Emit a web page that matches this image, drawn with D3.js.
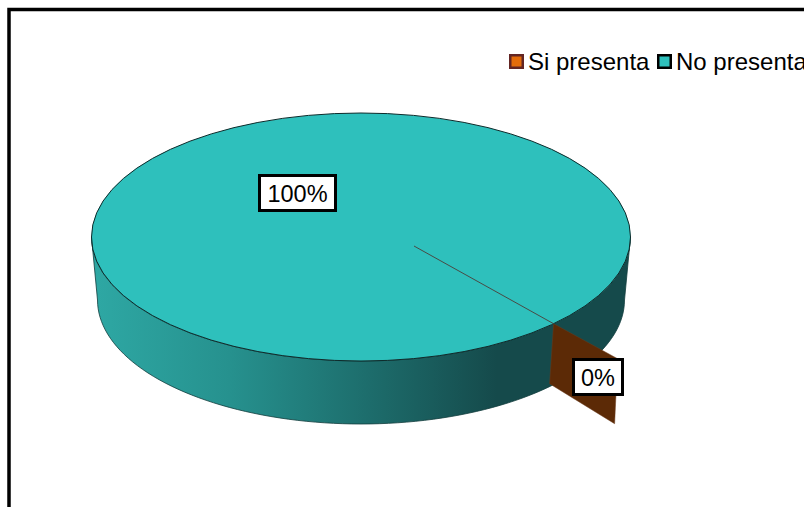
<!DOCTYPE html>
<html>
<head>
<meta charset="utf-8">
<script src="https://cdn.jsdelivr.net/npm/d3@7/dist/d3.min.js"></script>
<style>
html,body{margin:0;padding:0;background:#fff;overflow:hidden}
svg{display:block}
text{font-family:"Liberation Sans",Arial,sans-serif;fill:#000}
</style>
</head>
<body>
<svg id="c" width="804" height="507"></svg>
<script>
const categories = ["Si presenta", "No presenta"];
const seriesValues = [0, 100];
const valueLabels = ["0%", "100%"];
const swatchColors = ["#E46C0A", "#2EC0BC"];
const swatchStrokes = ["#632523", "#000000"];

const svg = d3.select("#c");
const W = 804, H = 507;
const topFace = {cx: 361, cy: 237, rx: 269.5, ry: 124};
const bottomFace = {cx: 361, cy: 300, rx: 263.5, ry: 124};
const hub = [414, 246];
const firstAngle = Math.atan2(191 / topFace.rx, -86 / topFace.ry);
const project = (e, a) => [e.cx + e.rx * Math.sin(a), e.cy - e.ry * Math.cos(a)];

const arcs = d3.pie().sort(null).startAngle(firstAngle).endAngle(firstAngle + 2 * Math.PI)(seriesValues);
const line = d3.line();

// frame
svg.append("path").attr("d", `M9 ${H + 5}V9.5H${W + 5}`).attr("fill", "none").attr("stroke", "#000").attr("stroke-width", 3.5);

// side wall
const defs = svg.append("defs");
const grad = defs.append("linearGradient").attr("id", "wall").attr("gradientUnits", "userSpaceOnUse")
  .attr("x1", 92).attr("x2", 552).attr("y1", 0).attr("y2", 0);
[[0, "#2EA8A4"], [0.3, "#26918E"], [0.6, "#1D6D6C"], [0.88, "#154A4B"], [1, "#154A4B"]]
  .forEach(s => grad.append("stop").attr("offset", s[0]).attr("stop-color", s[1]));

const lowerAngles = d3.range(0, 181, 2).map(d => (90 + d) * Math.PI / 180);
const wallPts = [
  [topFace.cx - topFace.rx, topFace.cy],
  ...lowerAngles.slice().reverse().map(a => project(topFace, a)),
  [topFace.cx + topFace.rx, topFace.cy],
  ...lowerAngles.map(a => project(bottomFace, a))
];
svg.append("path").attr("d", line(wallPts) + "Z").attr("fill", "url(#wall)").attr("stroke", "#123c3c").attr("stroke-width", 0.8);

// cut face of the zero slice
const edge = project(topFace, arcs[0].startAngle);
const edgeLow = [edge[0] - 4, edge[1] + 60];
svg.append("path")
  .attr("d", line([edge, [edge[0] + 64, edge[1] + 35], [edge[0] + 61, edge[1] + 100], edgeLow]) + "Z")
  .attr("fill", "#5C2A06").attr("stroke", "#6b3a1c").attr("stroke-width", 0.5);

// top face
svg.append("ellipse").attr("cx", topFace.cx).attr("cy", topFace.cy).attr("rx", topFace.rx).attr("ry", topFace.ry)
  .attr("fill", swatchColors[1]).attr("stroke", "#0d2b2b").attr("stroke-width", 1);

// slice boundary
svg.append("path").attr("d", line([hub, edge])).attr("stroke", "#4a4a45").attr("stroke-width", 1).attr("fill", "none");

// labels
const labelBoxes = [
  {x: 573.5, y: 359.5, w: 49, h: 35},
  {x: 259.5, y: 175.5, w: 76, h: 35}
];
const labels = svg.append("g").selectAll("g").data(valueLabels).join("g");
labels.append("rect")
  .attr("x", (d, i) => labelBoxes[i].x).attr("y", (d, i) => labelBoxes[i].y)
  .attr("width", (d, i) => labelBoxes[i].w).attr("height", (d, i) => labelBoxes[i].h)
  .attr("fill", "#fff").attr("stroke", "#000").attr("stroke-width", 3);
labels.append("text")
  .attr("x", (d, i) => labelBoxes[i].x + labelBoxes[i].w / 2)
  .attr("y", (d, i) => labelBoxes[i].y + labelBoxes[i].h / 2 + 9)
  .attr("text-anchor", "middle").attr("font-size", 23.5).text(d => d);

// legend
const legendX = [510.25, 658.25], legendText = [528, 676];
const legend = svg.append("g").selectAll("g").data(categories).join("g");
legend.append("rect")
  .attr("x", (d, i) => legendX[i]).attr("y", 55.25).attr("width", 12.5).attr("height", 12.5)
  .attr("fill", (d, i) => swatchColors[i]).attr("stroke", (d, i) => swatchStrokes[i]).attr("stroke-width", 2.5);
legend.append("text")
  .attr("x", (d, i) => legendText[i]).attr("y", 69.5).attr("font-size", 24).text(d => d);
</script>
</body>
</html>
